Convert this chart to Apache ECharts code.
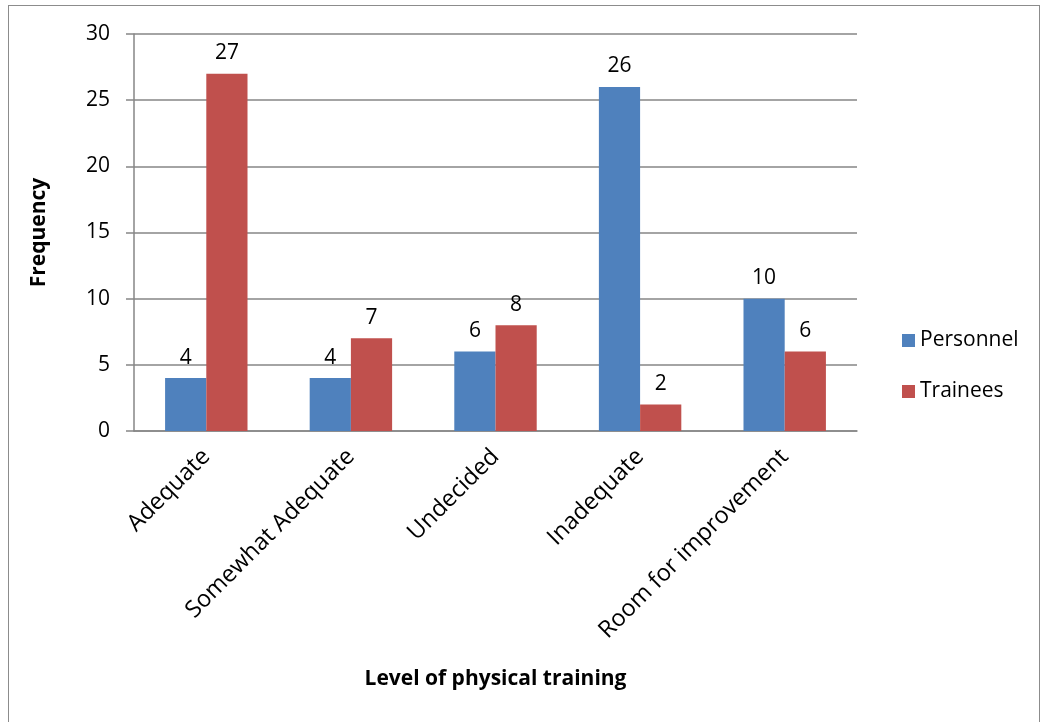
<!DOCTYPE html>
<html>
<head>
<meta charset="utf-8">
<script src="https://cdn.jsdelivr.net/npm/echarts@6/dist/echarts.min.js"></script>
<style>
  html, body { margin: 0; padding: 0; background: #fff; }
  #frame {
    position: absolute; left: 8px; top: 5px;
    width: 1032px; height: 730px;
    border: 1px solid #8c8c8c; box-sizing: border-box;
  }
  #chart { position: absolute; left: 0; top: 0; width: 1047px; height: 722px; }
</style>
</head>
<body>
<div id="frame"></div>
<div id="chart"></div>
<script>
var categories = ['Adequate', 'Somewhat Adequate', 'Undecided', 'Inadequate', 'Room for improvement'];
var personnel = [4, 4, 6, 26, 10];
var trainees = [27, 7, 8, 2, 6];
var yTicks = [0, 5, 10, 15, 20, 25, 30];

var chart = echarts.init(document.getElementById('chart'));
var font = '"Open Sans", sans-serif';
var grey = '#868686';

var labelCommon = {
  show: true,
  position: 'top',
  distance: 10,
  color: '#000',
  fontSize: 21,
  fontFamily: font
};

var option = {
  animation: false,
  backgroundColor: 'transparent',
  color: ['#4f81bd', '#c0504d'],
  grid: { left: 134, right: 190, top: 34, bottom: 291 },
  legend: {
    orient: 'vertical',
    left: 897,
    top: 325,
    itemWidth: 13,
    itemHeight: 13,
    itemGap: 30,
    icon: 'rect',
    textStyle: { fontSize: 21, fontFamily: font, color: '#000' },
    data: ['Personnel', 'Trainees']
  },
  xAxis: {
    type: 'category',
    data: categories,
    name: 'Level of physical training',
    nameLocation: 'middle',
    nameGap: 238,
    nameTextStyle: { fontSize: 21, fontWeight: 'bold', fontFamily: font, color: '#000' },
    axisLine: { lineStyle: { color: grey, width: 1.5 } },
    axisTick: { length: 8, lineStyle: { color: grey, width: 1.5 } },
    axisLabel: { rotate: 45, fontSize: 23.5, fontFamily: font, color: '#000', margin: 22 }
  },
  yAxis: {
    type: 'value',
    min: 0,
    max: 30,
    interval: 5,
    name: 'Frequency',
    nameLocation: 'middle',
    nameGap: 84,
    nameTextStyle: { fontSize: 21, fontWeight: 'bold', fontFamily: font, color: '#000' },
    axisLine: { show: true, lineStyle: { color: grey, width: 1.5 } },
    axisTick: { show: true, length: 8, lineStyle: { color: grey, width: 1.5 } },
    axisLabel: {
      fontSize: 21, fontFamily: font, color: '#000', margin: 24,
      formatter: function (v) { return yTicks.indexOf(v) >= 0 ? String(v) : ''; }
    },
    splitLine: { lineStyle: { color: grey, width: 1.5 } }
  },
  series: [
    {
      name: 'Personnel',
      type: 'bar',
      data: personnel,
      barGap: '0%',
      barCategoryGap: '43%',
      label: labelCommon
    },
    {
      name: 'Trainees',
      type: 'bar',
      data: trainees,
      barGap: '0%',
      barCategoryGap: '43%',
      label: labelCommon
    }
  ]
};

chart.setOption(option);
</script>
</body>
</html>
